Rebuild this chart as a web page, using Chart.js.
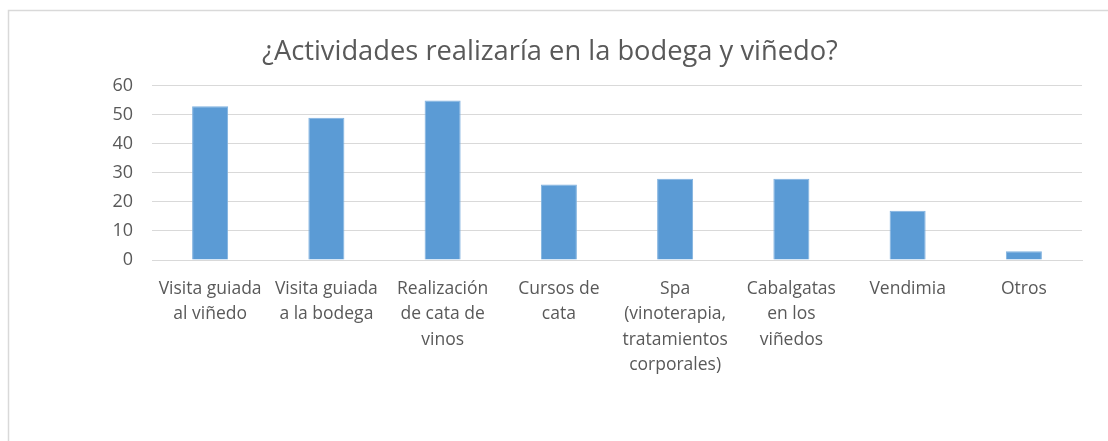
<!DOCTYPE html>
<html>
<head>
<meta charset="utf-8">
<script src="https://cdn.jsdelivr.net/npm/chart.js@4/dist/chart.umd.min.js"></script>
<style>
html,body{margin:0;padding:0;background:#fff;}
#wrap{position:relative;width:1108px;height:441px;}
canvas{display:block;}
</style>
</head>
<body>
<div id="wrap"><canvas id="c" width="1108" height="441"></canvas></div>
<script>
const titleText = "¿Actividades realizaría en la bodega y viñedo?";
const categories = [
  ["Visita guiada", "al viñedo"],
  ["Visita guiada", "a la bodega"],
  ["Realización", "de cata de", "vinos"],
  ["Cursos de", "cata"],
  ["Spa", "(vinoterapia,", "tratamientos", "corporales)"],
  ["Cabalgatas", "en los", "viñedos"],
  ["Vendimia"],
  ["Otros"]
];
const values = [53, 49, 55, 26, 28, 28, 17, 3];
const yTicks = [0, 10, 20, 30, 40, 50, 60];

const FONT = "'Open Sans', 'Noto Sans', sans-serif";
const TXT = "#595959";
const GRID = "#d9d9d9";

const frame = {
  id: 'frame',
  afterLayout(chart) {
    if (chart.titleBlock) {
      chart.titleBlock.left = 0;
      chart.titleBlock.right = 1100;
    }
  },
  beforeDraw(chart) {
    const ctx = chart.ctx;
    ctx.save();
    ctx.strokeStyle = GRID;
    ctx.lineWidth = 1.5;
    ctx.beginPath();
    ctx.moveTo(8.5, 441);
    ctx.lineTo(8.5, 10.5);
    ctx.lineTo(1108, 10.5);
    ctx.stroke();
    ctx.restore();
  }
};

new Chart(document.getElementById('c'), {
  type: 'bar',
  data: {
    labels: categories,
    datasets: [{
      data: values,
      backgroundColor: '#5b9bd5',
      borderColor: '#7fb1df',
      borderWidth: 1,
      categoryPercentage: 1,
      barPercentage: 0.31
    }]
  },
  options: {
    responsive: false,
    animation: false,
    devicePixelRatio: 1,
    layout: { padding: { top: 0, right: 26, bottom: 0, left: 0 } },
    plugins: {
      legend: { display: false },
      tooltip: { enabled: false },
      title: {
        display: true,
        text: titleText,
        color: TXT,
        font: { family: FONT, size: 27.3, weight: 'normal', lineHeight: 1.2 },
        padding: { top: 36, bottom: 17.2 }
      }
    },
    scales: {
      x: {
        grid: { display: false },
        border: { display: true, color: GRID, width: 1 },
        ticks: {
          color: TXT,
          font: { family: FONT, size: 17.5, lineHeight: 1.46 },
          maxRotation: 0,
          minRotation: 0,
          autoSkip: false,
          padding: 8
        },
        afterFit(scale) { scale.height = 181; }
      },
      y: {
        min: 0,
        max: 60,
        afterBuildTicks(scale) { scale.ticks = yTicks.map(v => ({ value: v })); },
        grid: { color: GRID, lineWidth: 1, drawTicks: false },
        border: { display: false },
        ticks: {
          color: TXT,
          font: { family: FONT, size: 18 },
          padding: 19
        },
        afterFit(scale) { scale.width = 152; }
      }
    }
  },
  plugins: [frame]
});
</script>
</body>
</html>
